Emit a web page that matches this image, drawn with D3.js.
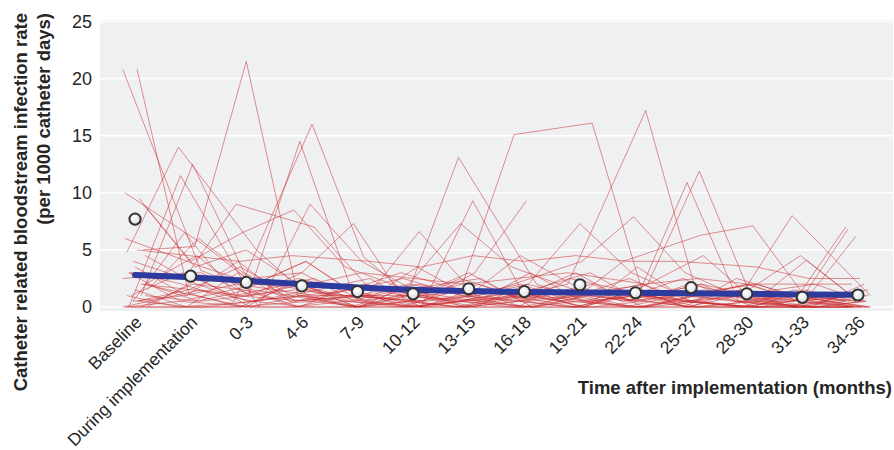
<!DOCTYPE html>
<html>
<head>
<meta charset="utf-8">
<script src="https://cdn.jsdelivr.net/npm/d3@7/dist/d3.min.js"></script>
<style>
  html, body { margin: 0; padding: 0; background: #ffffff; }
  svg { display: block; font-family: "Liberation Sans", Arial, Helvetica, sans-serif; }
</style>
</head>
<body>
<svg id="chart" width="894" height="450"></svg>
<script>
// Time periods on the x axis
const categories = ["Baseline", "During implementation", "0-3", "4-6", "7-9", "10-12",
  "13-15", "16-18", "19-21", "22-24", "25-27", "28-30", "31-33", "34-36"];

const yTicks = [0, 5, 10, 15, 20, 25];

// Mean rate per period (open circles)
const meanRate = [7.7, 2.7, 2.15, 1.85, 1.35, 1.15, 1.6, 1.35, 1.95, 1.25, 1.7, 1.15, 0.85, 1.05];

// Fitted trend across periods (thick blue line)
const trendRate = [2.8, 2.6, 2.3, 2.0, 1.7, 1.5, 1.4, 1.32, 1.28, 1.24, 1.2, 1.15, 1.1, 1.07];

// Rate per hospital per period (thin red lines); null = no data for that period
const hospitalRates = [
  [20.8, 3.2, 1.5, 0.8, 0, 1.2, 0.5, 0, 1.0, 0.6, 0, 0.4, 0, 0.5],
  [20.8, 1.2, 0, 2.0, 0.5, 0, 1.5, 0.8, 0, 1.2, 0.5, 0, 0.3, 0.8],
  [10.0, 5.5, 2.0, 4.0, 1.0, 0.5, 2.5, 1.0, 3.0, 0.5, 1.5, 0.8, 0, 6.8],
  [9.5, 4.0, 6.5, 8.5, 3.5, 1.0, 0, 2.0, 1.0, 2.5, 0.5, 0, 0.8, 1.2],
  [4.8, 14.0, 5.0, 1.0, 0, 2.0, 1.0, 0.5, 2.0, 0, 1.0, 2.0, 0.5, 0],
  [1.0, 12.5, 3.0, 0.5, 1.5, 0, 0.8, 1.5, 0, 1.0, 2.5, 0.5, 0, 0.5],
  [0, 11.5, 0, 9.0, 4.0, 1.5, 0, 1.0, 0.5, 0, 1.0, 1.5, 4.5, 1.0],
  [5.0, 5.3, 21.5, 1.0, 0.5, 0, 2.0, 0.5, 1.0, 0, 0.5, 1.0, 0, 0.5],
  [3.0, 2.0, 0.5, 16.0, 4.4, 0.5, 1.0, 0, 2.5, 1.0, 0, 0.5, 1.0, 0],
  [2.0, 4.5, 1.0, 14.5, 1.5, 2.5, 0.5, 1.0, 0, 1.5, 0.5, 0, 0.5, 1.0],
  [4.0, 2.5, 9.0, 7.0, 2.0, 1.0, 3.0, 0.5, 1.5, 0.5, 2.0, 1.0, 0.5, 6.2],
  [1.5, 6.0, 2.5, 3.0, 7.3, 0.5, 0, 1.5, 0.5, 1.0, 0, 1.5, 1.0, 0],
  [3.5, 1.0, 4.0, 0.5, 1.0, 6.6, 1.5, 0, 1.0, 0, 1.5, 0.5, 0, 1.5],
  [2.5, 3.0, 1.0, 2.0, 0, 1.0, 13.1, 2.0, 0.5, 1.0, 0.5, 0, 1.5, 0.5],
  [0.5, 1.5, 3.5, 1.0, 2.5, 0, 9.3, 1.0, 3.0, 0.5, 1.0, 2.0, 0.5, 0],
  [6.0, 3.5, 2.0, 4.0, 1.0, 2.0, 7.3, 3.5, 1.0, 2.0, 0.5, 1.0, 0, 1.0],
  [null, null, null, null, 1.0, 0.5, 3.0, 9.3, null, null, null, null, null, null],
  [1.0, 0, 0.5, 1.5, 0, 1.0, 2.0, 15.1, 16.1, 1.0, 0.5, 0, 1.0, 0.5],
  [0, 2.0, 1.5, 0, 1.0, 0.5, 1.0, 2.0, 7.3, 3.0, 1.0, 0.5, 0, 2.0],
  [3.0, 0.5, 2.0, 1.5, 0.5, 0, 0.5, 1.0, 2.0, 17.2, 1.0, 2.0, 0.5, 0],
  [2.0, 1.0, 0, 2.5, 1.5, 3.0, 1.0, 2.5, 4.0, 7.9, 3.0, 1.0, 2.0, 0.5],
  [1.0, 3.0, 1.0, 0.5, 2.0, 1.0, 0, 0.5, 1.0, 2.0, 11.9, 1.0, 0.5, 1.0],
  [4.5, 2.0, 0.5, 1.0, 0, 1.5, 2.5, 0, 1.5, 0.5, 10.9, 0.5, 1.0, 0],
  [0.5, 1.0, 2.0, 1.0, 1.0, 0, 1.0, 2.0, 0.5, 4.0, 6.3, 7.1, 1.0, 0.5],
  [2.0, 0.5, 1.0, 3.0, 0.5, 1.0, 0.5, 1.5, 1.0, 0.5, 2.0, 1.0, 8.0, 1.0],
  [1.5, 0, 3.0, 0.5, 1.0, 2.0, 1.0, 0.5, 0, 1.0, 4.5, 0.5, 4.1, 0.5],
  [0, 1.5, 0.5, 1.0, 0, 0.5, 0, 1.0, 0.5, 0, 1.0, 0.5, 0.5, 7.0],
  [5.0, 4.5, 4.0, 4.5, 4.0, 3.5, 4.5, 4.0, 4.5, 4.0, 4.0, 3.5, 2.5, 2.5],
  [0, 0, 0.5, 0, 0, 0, 0.5, 0, 0, 0, 0, 0, 0, 0],
  [0.5, 0, 0, 0, 0.5, 0, 0, 0, 0.5, 0, 0, 0, 0, 0],
  [0, 0.5, 0, 0, 0, 0.5, 0, 0, 0, 0.5, 0, 0, 0, 0],
  [2.0, 1.5, 1.0, 1.5, 1.0, 1.0, 1.5, 1.0, 1.5, 1.0, 1.0, 1.0, 1.0, 1.0],
  [3.0, 2.5, 2.0, 2.0, 3.0, 2.5, 2.0, 2.5, 3.0, 2.0, 2.5, 2.0, 2.0, 2.0],
  [9.0, 3.5, 5.0, 2.0, 0.5, 1.5, 0.5, 3.0, 0.5, 1.5, 0, 2.5, 0.5, 0],
  [0, 0, 0, 0.5, 0, 0, 0, 0.5, 0, 0, 0.5, 0, 0, 0],
  [1.0, 0.5, 1.5, 0, 2.0, 1.0, 0.5, 0, 1.0, 1.5, 0, 1.0, 0.5, 1.5],
  [0.5, 6.5, 1.0, 2.5, 0.5, 3.5, 1.0, 4.5, 2.0, 0.5, 2.0, 0, 1.5, 0.5],
  [0, 2.5, 0, 1.0, 1.5, 0, 0.5, 1.0, 0, 3.5, 0.5, 1.5, 0, 0]
];

const svg = d3.select("#chart");

const x = d3.scalePoint().domain(categories).range([100, 893]).padding(0.63);
const y = d3.scaleLinear().domain([0, 25]).range([307, 21.5]);
const step = x.step();

// Panel background
svg.append("rect")
  .attr("x", 100).attr("y", 20)
  .attr("width", 793).attr("height", 291)
  .attr("fill", "#eff0f2");

// Horizontal gridlines
svg.append("g").selectAll("line")
  .data(yTicks)
  .join("line")
  .attr("x1", 100).attr("x2", 893)
  .attr("y1", d => y(d)).attr("y2", d => y(d))
  .attr("stroke", "#ffffff").attr("stroke-width", 1.6);

// Small horizontal spread so overlapping hospital lines separate a little
const spread = (i, j) => ((((i * 7 + j * 11) % 13) - 6) / 6) * 0.22 * step;

const hospLine = d3.line()
  .defined(d => d.v !== null)
  .x(d => x(categories[d.j]) + spread(d.i, d.j))
  .y(d => y(d.v));

svg.append("g").selectAll("path")
  .data(hospitalRates.map((row, i) => row.map((v, j) => ({ i, j, v }))))
  .join("path")
  .attr("d", hospLine)
  .attr("fill", "none")
  .attr("stroke", "rgb(202,38,42)")
  .attr("stroke-opacity", 0.5)
  .attr("stroke-width", 1);

// Trend line
const trendLine = d3.line()
  .x((d, j) => x(categories[j]))
  .y(d => y(d))
  .curve(d3.curveMonotoneX);

svg.append("path")
  .datum(trendRate)
  .attr("d", trendLine)
  .attr("fill", "none")
  .attr("stroke", "#2c3a9e")
  .attr("stroke-width", 6)
  .attr("stroke-linecap", "round");

// Mean markers
const defs = svg.append("defs");
const grad = defs.append("radialGradient").attr("id", "dotFill")
  .attr("cx", "40%").attr("cy", "35%").attr("r", "65%");
grad.append("stop").attr("offset", "0%").attr("stop-color", "#ffffff");
grad.append("stop").attr("offset", "100%").attr("stop-color", "#d9dde2");

svg.append("g").selectAll("circle")
  .data(meanRate)
  .join("circle")
  .attr("cx", (d, j) => x(categories[j]))
  .attr("cy", d => y(d))
  .attr("r", 5.6)
  .attr("fill", "url(#dotFill)")
  .attr("stroke", "#333333")
  .attr("stroke-width", 2);

// Y axis
const yAxis = svg.append("g")
  .attr("transform", "translate(100,0)")
  .call(d3.axisLeft(y).tickValues(yTicks).tickSize(0).tickPadding(8));
yAxis.select(".domain").remove();
yAxis.selectAll("text")
  .attr("font-size", 18)
  .attr("font-family", "Liberation Sans, Arial, sans-serif")
  .attr("fill", "#262626");

// X axis with slanted labels
const xAxis = svg.append("g")
  .attr("transform", "translate(0,311)")
  .call(d3.axisBottom(x).tickSize(0).tickPadding(0));
xAxis.select(".domain").remove();
xAxis.selectAll("text")
  .attr("font-size", 17.5)
  .attr("font-family", "Liberation Sans, Arial, sans-serif")
  .attr("fill", "#262626")
  .attr("text-anchor", "end")
  .attr("dy", "0.35em")
  .attr("transform", "translate(3,8) rotate(-45)");

// Axis titles
svg.append("text")
  .attr("transform", "translate(27,13) rotate(-90)")
  .attr("text-anchor", "end")
  .attr("font-size", 18.5)
  .attr("font-weight", "bold")
  .attr("fill", "#262626")
  .text("Catheter related bloodstream infection rate");

svg.append("text")
  .attr("transform", "translate(50,13) rotate(-90)")
  .attr("text-anchor", "end")
  .attr("font-size", 18.5)
  .attr("font-weight", "bold")
  .attr("fill", "#262626")
  .text("(per 1000 catheter days)");

svg.append("text")
  .attr("x", 892).attr("y", 394)
  .attr("text-anchor", "end")
  .attr("font-size", 18.5)
  .attr("font-weight", "bold")
  .attr("fill", "#262626")
  .text("Time after implementation (months)");
</script>
</body>
</html>
